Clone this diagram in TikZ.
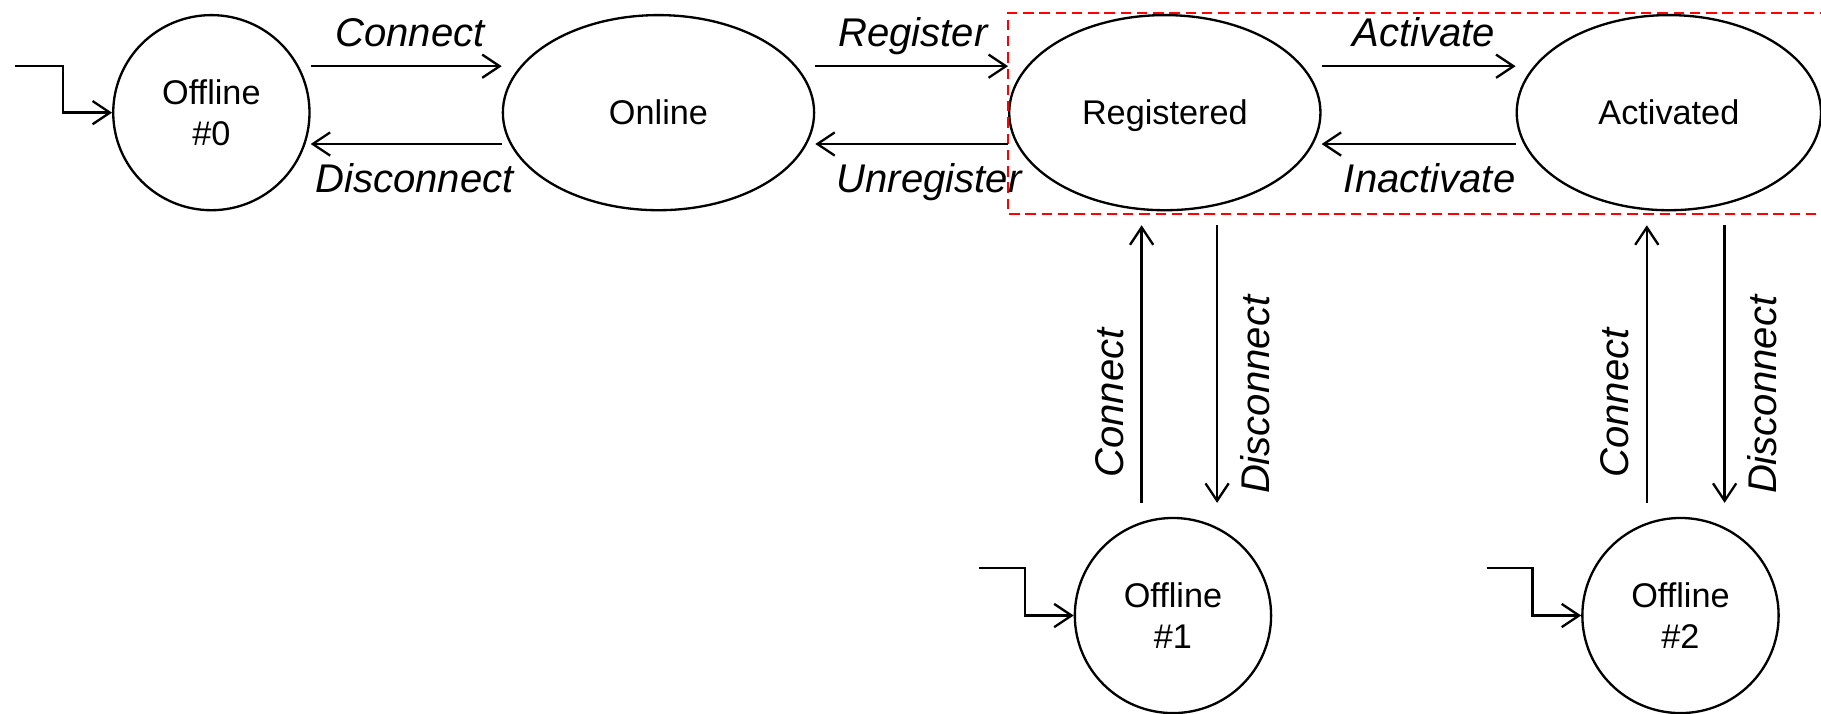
\documentclass[tikz,border=0pt]{standalone}
\usepackage{fontspec}
\setmainfont{Liberation Sans}
\usetikzlibrary{shapes.geometric,arrows.meta,calc}
\begin{document}
\begin{tikzpicture}[x=1pt,y=-1pt,
  state/.style={ellipse,draw,line width=2pt,inner sep=0pt,align=center,
    font=\fontsize{29.5}{35}\selectfont,text height=21pt,text depth=0pt},
  offst/.style={state,minimum width=169pt,minimum height=168pt,text height=56pt},
  lbl/.style={font=\fontsize{34.5}{40}\selectfont\itshape,inner sep=0pt},
  vlbl/.style={lbl,rotate=90,anchor=center,text height=25pt,text depth=0pt},
  arr/.style={line width=2pt,-{Straight Barb[length=15pt,width=20pt,line width=2pt]}},
  box/.style={draw=red,line width=2pt,dash pattern=on 9pt off 5pt}
]
\useasboundingbox (0,0) rectangle (1568,614);

% states
\node[offst] (off0) at (182,97) {Offline\\\#0};
\node[state,minimum width=268pt,minimum height=168pt] (on) at (567,97) {Online};
\node[state,minimum width=268pt,minimum height=168pt] (reg) at (1003,97) {Registered};
\node[state,minimum width=262pt,minimum height=168pt] (act) at (1437,97) {Activated};
\node[offst] (off1) at (1010,530) {Offline\\\#1};
\node[offst] (off2) at (1447,530) {Offline\\\#2};

% highlight box
\draw[box] (1590,11) -- (868,11) -- (868,184) -- (1590,184);

% initial arrows
\coordinate (i0) at (13,57);
\coordinate (i1) at (843,489);
\coordinate (i2) at (1280,489);
\draw[arr] (i0) -| ([xshift=-42pt]off0.west) -- (off0.west);
\draw[arr] (i1) -| ([xshift=-42pt]off1.west) -- (off1.west);
\draw[arr] (i2) -| ([xshift=-42pt]off2.west) -- (off2.west);

% horizontal transitions
\draw[arr] ([yshift=40pt]off0.east) -- ([yshift=40pt]on.west);
\draw[arr] ([yshift=-27pt]on.west) -- ([yshift=-27pt]off0.east);
\draw[arr] ([yshift=40pt]on.east) -- ([yshift=40pt]reg.west);
\draw[arr] ([yshift=-27pt]reg.west) -- ([yshift=-27pt]on.east);
\draw[arr] ([yshift=40pt]reg.east) -- ([yshift=40pt]act.west);
\draw[arr] ([yshift=-27pt]act.west) -- ([yshift=-27pt]reg.east);

\node[lbl,anchor=base] (l1) at (353,40) {Connect};
\node[lbl,anchor=base] (l2) at (357,166) {Disconnect};
\node[lbl,anchor=base] (l3) at (786,40) {Register};
\node[lbl,anchor=base] (l4) at (800,166) {Unregister};
\node[lbl,anchor=base] (l5) at (1226,40) {Activate};
\node[lbl,anchor=base] (l6) at (1231,166) {Inactivate};

% vertical transitions
\draw[arr] ($(off1.north)+(-27,-12)$) -- ($(reg.south)+(-20,12)$);
\draw[arr] ($(reg.south)+(45,12)$) -- ($(off1.north)+(38,-12)$);
\draw[arr] ($(off2.north)+(-29,-12)$) -- ($(act.south)+(-19,12)$);
\draw[arr] ($(act.south)+(48,12)$) -- ($(off2.north)+(38,-12)$);

\node[vlbl] (l7) at (955,347) {Connect};
\node[vlbl] (l8) at (1081,340) {Disconnect};
\node[vlbl] (l9) at (1390,347) {Connect};
\node[vlbl] (l10) at (1517,340) {Disconnect};
\end{tikzpicture}
\end{document}
